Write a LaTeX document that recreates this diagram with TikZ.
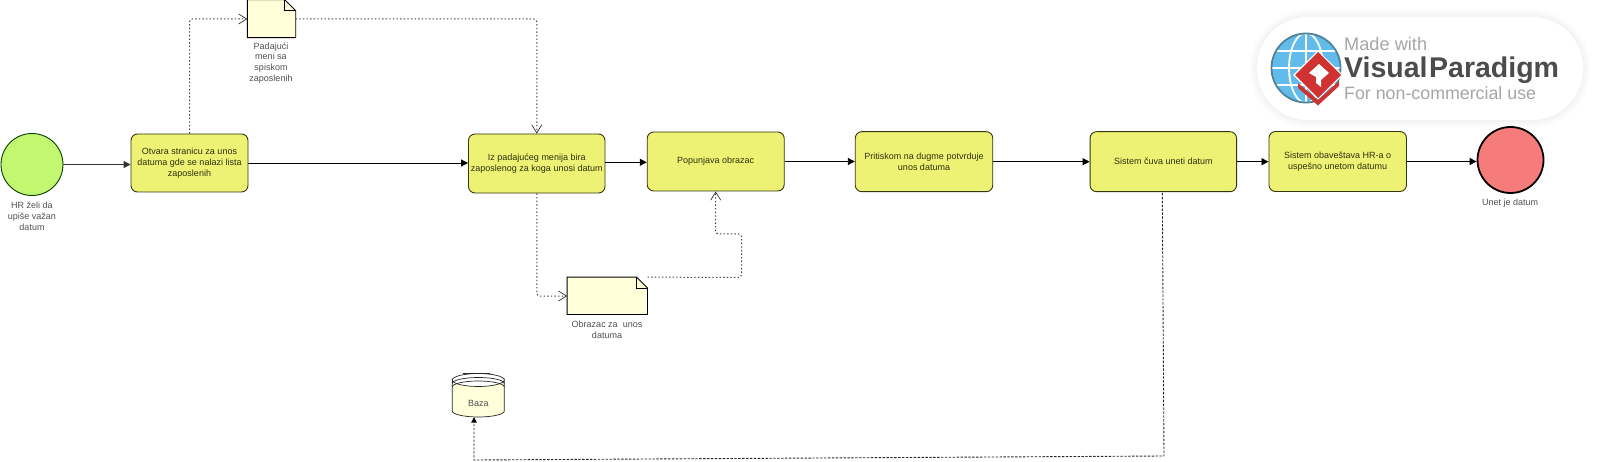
\documentclass[tikz,border=0pt]{standalone}
\usepackage{fontspec}
\setmainfont{Liberation Sans}
\usetikzlibrary{arrows.meta,calc}
\definecolor{taskfill}{HTML}{EDF274}
\definecolor{taskline}{HTML}{33360F}
\definecolor{startfill}{HTML}{C3F76F}
\definecolor{endfill}{HTML}{F67B7B}
\definecolor{docfill}{HTML}{FFFFDA}
\definecolor{labelgray}{HTML}{505050}
\definecolor{globeblue}{HTML}{62BCEB}
\definecolor{globeedge}{HTML}{4F8397}
\definecolor{logored}{HTML}{CF3230}
\tikzset{
 x=1pt,y=-1pt,
 txt/.style={font=\fontsize{9}{10.8}\selectfont,align=center},
 task/.style={draw=taskline,line width=0.9pt,fill=taskfill,rounded corners=6.5pt,inner sep=0pt,txt,text=taskline!90!black},
 lbl/.style={txt,text=labelgray,inner sep=0pt},
 flowline/.style={draw=black,line width=0.9pt,-{Triangle[length=7pt,width=7pt]}},
 assoc/.style={draw=black!75,line width=1pt,dash pattern=on 1.4pt off 2.2pt,rounded corners=3pt,-{Straight Barb[length=8pt,width=10pt,line width=0.7pt,black!80]}},
 dataline/.style={draw=black!85,line width=0.9pt,dash pattern=on 2.4pt off 1.5pt,-{Triangle[length=5.5pt,width=5.5pt,black]}},
 docbox/.style={inner sep=0pt},
 docpath/.style={draw=black,line width=0.9pt,fill=docfill},
}
\begin{document}
\begin{tikzpicture}
\useasboundingbox (0,0) rectangle (1600,462);
% logo
\foreach \w/\o in {16/0.008,12/0.01,8/0.012,4/0.015}{
 \draw[line width=\w pt,black,opacity=\o,rounded corners=51pt] (1257,17) rectangle (1583,120);}
\fill[white,rounded corners=51pt] (1257,17) rectangle (1583,120);
\begin{scope}
 \clip (1306,68) circle[radius=34.5];
 \fill[globeblue] (1306,68) circle[radius=34.5];
 \draw[white,line width=1.8pt] (1306,33)--(1306,103) (1271,68)--(1341,68) (1275,51)--(1337,51) (1275,85)--(1337,85);
 \draw[white,line width=1.8pt] (1306,68) ellipse[x radius=17,y radius=35];
\end{scope}
\draw[globeedge,line width=1.8pt] (1306,68) circle[radius=34.5];
\fill[logored] (1298,88)--(1318,105.5)--(1339,86)--(1339,81)--(1318,100)--(1298,83)--cycle;
\fill[white] (1318,50.5)--(1343,75)--(1318,99.5)--(1293,75)--cycle;
\fill[logored] (1318,52)--(1341,75)--(1318,98)--(1295,75)--cycle;
\fill[white] (1319,64)--(1329,73)--(1321,80)--(1321,87)--(1316,83)--(1316,77)--(1309,73)--cycle;
\node[inner sep=0pt,anchor=base west,text=black!35,font=\fontsize{18.2}{20}\selectfont] (lg1) at (1344,51) {Made with};
\node[inner sep=0pt,anchor=base west,text=black!70,font=\fontsize{28.5}{30}\selectfont\bfseries] (lg2) at (1344,78) {Visual\kern1.5pt Paradigm};
\node[inner sep=0pt,anchor=base west,text=black!35,font=\fontsize{17.8}{20}\selectfont] (lg3) at (1344,100) {For non-commercial use};
% events
\node[circle,draw=black!75!green,line width=0.9pt,fill=startfill,minimum size=62pt,inner sep=0pt] (start) at (32,164.5) {};
\node[lbl] (startl) at (32,216) {HR želi da\\upiše važan\\datum};
\node[circle,draw=black,line width=1.8pt,fill=endfill,minimum size=66pt,inner sep=0pt] (end) at (1510.5,160) {};
\node[lbl] (endl) at (1510,203.5) {Unet je datum};
% tasks
\node[task,minimum width=117pt,minimum height=58pt] (t1) at (189.5,163) {Otvara stranicu za unos\\datuma gde se nalazi lista\\zaposlenih};
\node[task,minimum width=136.5pt,minimum height=59pt] (t2) at (536.75,163.5) {Iz padajućeg menija bira\\zaposlenog za koga unosi datum};
\node[task,minimum width=137pt,minimum height=59pt] (t3) at (715.7,161.5) {Popunjava obrazac};
\node[task,minimum width=137.5pt,minimum height=60pt] (t4) at (924,161.7) {Pritiskom na dugme potvrduje\\unos datuma};
\node[task,minimum width=146.5pt,minimum height=60pt] (t5) at (1163.3,161.7) {Sistem čuva uneti datum};
\node[task,minimum width=137.5pt,minimum height=60pt] (t6) at (1337.7,161.5) {Sistem obaveštava HR-a o\\uspešno unetom datumu};
% documents
\node[docbox,minimum width=48pt,minimum height=37.5pt] (d1) at (271.5,18.75) {};
\draw[docpath] (d1.north west) -- ($(d1.north east)+(-11,0)$) -- ($(d1.north east)+(0,11)$) -- (d1.south east) -- (d1.south west) -- cycle;
\draw[draw=black,line width=0.9pt] ($(d1.north east)+(-11,0)$) |- ($(d1.north east)+(0,11)$);
\node[lbl] (d1l) at (271,63) {Padajući\\meni sa\\spiskom\\zaposlenih};
\node[docbox,minimum width=80pt,minimum height=37pt] (d2) at (607.3,295.8) {};
\draw[docpath] (d2.north west) -- ($(d2.north east)+(-11,0)$) -- ($(d2.north east)+(0,11)$) -- (d2.south east) -- (d2.south west) -- cycle;
\draw[draw=black,line width=0.9pt] ($(d2.north east)+(-11,0)$) |- ($(d2.north east)+(0,11)$);
\node[lbl] (d2l) at (607,329.8) {Obrazac za\ \ unos\\datuma};
% database
\node[inner sep=0pt,minimum width=52pt,minimum height=43.5pt] (baza) at (478.3,395.2) {};
\draw[draw=black!85,line width=0.7pt,fill=docfill] (452.3,380) arc[start angle=180,end angle=0,x radius=26,y radius=6.5] -- (504.3,411) arc[start angle=0,end angle=180,x radius=26,y radius=6] -- cycle;
\draw[draw=black!85,line width=0.7pt] (452.3,380) arc[start angle=180,end angle=360,x radius=26,y radius=6.5]
 (452.3,383.5) arc[start angle=180,end angle=360,x radius=26,y radius=6]
 (452.3,387) arc[start angle=180,end angle=360,x radius=26,y radius=6]
 (463,373.4) -- (490,373.4);
\node[txt,inner sep=0pt,text=labelgray] (bazat) at (478.3,403) {Baza};
% sequence flows
\draw[flowline,line width=1.4pt,draw=black!80] (start.east) -- (t1.west |- start.east);
\draw[flowline] (t1.east) -- (t2.west |- t1.east);
\draw[flowline] (t2.east |- t3.west) ++(0,0.8) -- ([yshift=-0.8pt]t3.west);
\draw[flowline] (t3.east) -- (t4.west |- t3.east);
\draw[flowline] (t4.east) -- (t5.west);
\draw[flowline] (t5.east) -- (t6.west |- t5.east);
\draw[flowline] (t6.east) -- (end.west |- t6.east);
% associations
\coordinate (a1) at (189.5,19);
\coordinate (a2) at (536.75,19);
\coordinate (a3) at (536.75,296);
\coordinate (a4) at (741.5,277.5);
\coordinate (a5) at (741.5,234);
\coordinate (a6) at (715.7,234);
\draw[assoc] (t1.north) -- (a1) -- (d1.west |- a1);
\draw[assoc] (d1.east |- a1) -- (a2) -- (t2.north);
\draw[assoc] (t2.south) -- (a3) -- (d2.west |- a3);
\draw[assoc] (d2.north east) -- (a4) -- (a5) -- (a6) -- (t3.south);
% data association
\coordinate (b0) at (1162.3,193);
\coordinate (b1) at (1164,456);
\coordinate (b2) at (474,460);
\draw[dataline] (b0) -- (b1) -- (b2) -- (b2 |- baza.south);
\end{tikzpicture}
\end{document}
